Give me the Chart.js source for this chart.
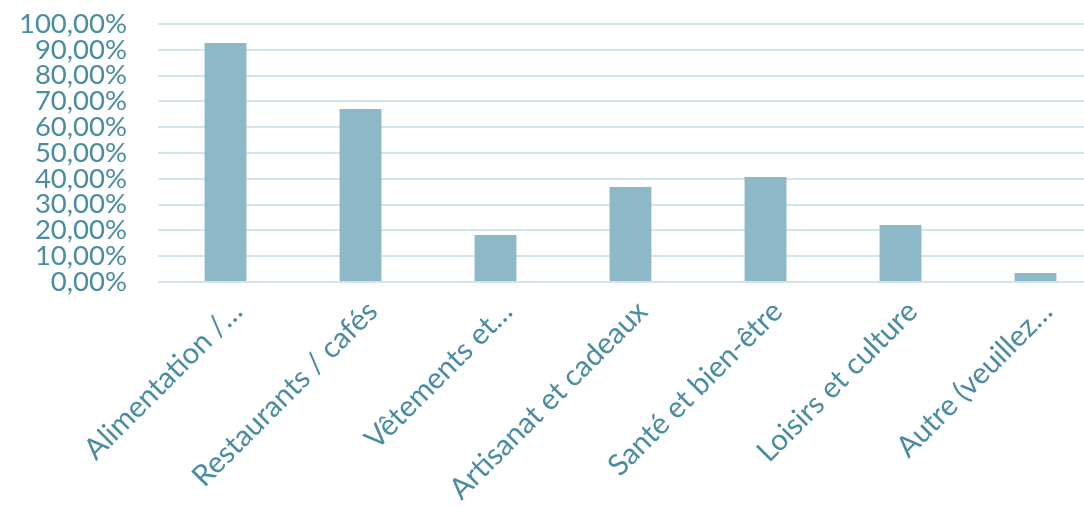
<!DOCTYPE html>
<html>
<head>
<meta charset="utf-8">
<script src="https://cdn.jsdelivr.net/npm/chart.js@4"></script>
<style>
  html, body { margin: 0; padding: 0; background: #fff; overflow: hidden; }
  /* a bit wider than the window: the original is cropped on the right */
  #wrap { width: 1103px; height: 510px; }
</style>
</head>
<body>
<div id="wrap"><canvas id="chart"></canvas></div>
<script>
const categories = ['Alimentation /…', 'Restaurants / cafés', 'Vêtements et…', 'Artisanat et cadeaux', 'Santé et bien-être', 'Loisirs et culture', 'Autre (veuillez…'];
const shares = [92.6, 67.1, 18.2, 36.8, 40.7, 22.1, 3.5];

const textColor = '#4a8ca2';

new Chart(document.getElementById('chart'), {
    type: 'bar',
    data: {
        labels: categories,
        datasets: [{
            data: shares,
            backgroundColor: '#8cb8c8',
            categoryPercentage: 1,
            barPercentage: 0.31
        }]
    },
    options: {
        responsive: true,
        maintainAspectRatio: false,
        animation: false,
        layout: { autoPadding: false, padding: { top: 24, right: 0, left: 0, bottom: 0 } },
        plugins: { legend: { display: false }, tooltip: { enabled: false } },
        scales: {
            y: {
                min: 0, max: 100,
                afterFit: s => {
                    s.width = 158;
                    // tick padding would otherwise push the plot top down
                    s.paddingTop = 0;
                    s.paddingBottom = 0;
                },
                ticks: {
                    stepSize: 10,
                    autoSkip: false,
                    color: textColor,
                    font: { family: 'Lato', size: 27.5 },
                    padding: 31,
                    callback: v => v.toFixed(2).replace('.', ',') + '%'
                },
                grid: { color: '#d3e5eb', lineWidth: 2, drawTicks: false },
                border: { display: false }
            },
            x: {
                afterFit: s => {
                    s.height = 228;
                    s.paddingRight = 0;
                },
                ticks: {
                    color: textColor,
                    font: { family: 'Lato', size: 29.5 },
                    minRotation: 45, maxRotation: 45,
                    autoSkip: false,
                    labelOffset: 12,
                    padding: 12
                },
                grid: { display: false, drawTicks: false },
                border: { display: false }
            }
        }
    }
});
</script>
</body>
</html>
